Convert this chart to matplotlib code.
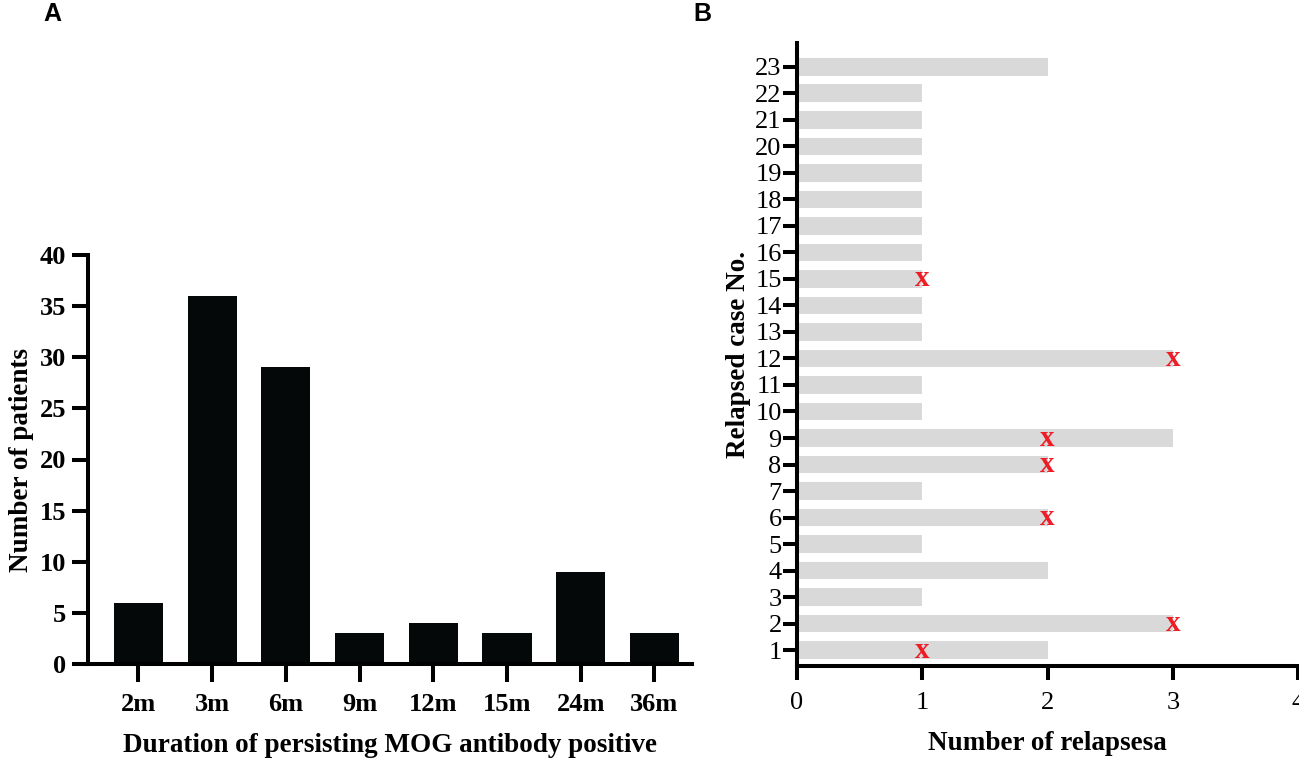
import numpy as np
import matplotlib.pyplot as plt

# panel A data
durations = ['2m', '3m', '6m', '9m', '12m', '15m', '24m', '36m']
n_patients = [6, 36, 29, 3, 4, 3, 9, 3]

# panel B data
cases = list(range(1, 24))
relapses = [2, 3, 1, 2, 1, 2, 1, 2, 3, 1, 1, 3, 1, 1, 1, 1, 1, 1, 1, 1, 1, 1, 2]
# red "x" marks: case number and position on the relapse axis
mark_cases = [1, 2, 6, 8, 9, 12, 15]
mark_pos = [1, 3, 2, 2, 2, 3, 1]

plt.rcParams['font.family'] = ['Liberation Serif', 'DejaVu Serif']

fig = plt.figure(figsize=(12.99, 7.66), dpi=100)
W, H = 1299, 766

# ---- panel A
axA = fig.add_axes([88/W, (H-664)/H, (692-88)/W, (664-255)/H])
x = np.arange(len(durations))
axA.bar(x, n_patients, width=0.665, color='#050808', edgecolor='none')
axA.set_xlim(-0.685, 7.51)
axA.set_ylim(0, 40)
axA.set_yticks(np.arange(0, 41, 5))
axA.set_xticks(x)
axA.set_xticklabels(durations)
axA.tick_params(axis='both', width=2.9, labelsize=19, direction='out')
axA.tick_params(axis='y', length=11.5, pad=4)
axA.tick_params(axis='x', length=13, pad=8)
for lab in axA.get_xticklabels() + axA.get_yticklabels():
    lab.set_fontweight('bold')
for s in ['top', 'right']:
    axA.spines[s].set_visible(False)
for s in ['left', 'bottom']:
    axA.spines[s].set_linewidth(2.9)
axA.set_xlabel('Duration of persisting MOG antibody positive', fontsize=19.5,
               fontweight='bold', labelpad=12)
axA.set_ylabel('Number of patients', fontsize=19.5, fontweight='bold', labelpad=4)

# ---- panel B
axB = fig.add_axes([797/W, (H-666)/H, (1298-797)/W, (666-43)/H])
axB.barh(cases, relapses, height=0.67, color='#d9d9d9', edgecolor='none')
for c, p in zip(mark_cases, mark_pos):
    axB.text(p, c, 'x', color='#ee1c25', fontsize=21, fontweight='bold',
             ha='center', va='center')
axB.set_xlim(0, 4)
axB.set_ylim(0.4, 23.9)
axB.set_yticks(cases)
axB.set_xticks(range(5))
axB.tick_params(axis='both', width=2.9, labelsize=19, direction='out')
axB.tick_params(axis='y', length=10, pad=1)
axB.tick_params(axis='x', length=10, pad=9)
for s in ['top', 'right']:
    axB.spines[s].set_visible(False)
for s in ['left', 'bottom']:
    axB.spines[s].set_linewidth(2.9)
axB.set_xlabel('Number of relapsesa', fontsize=19.5, fontweight='bold', labelpad=12)
axB.set_ylabel('Relapsed case No.', fontsize=19.5, fontweight='bold', labelpad=3)

fig.text(43/W, 1 - 14/H, 'A', fontsize=18, fontweight='bold',
         family='Liberation Sans', ha='left', va='center')
fig.text(693/W, 1 - 14/H, 'B', fontsize=18, fontweight='bold',
         family='Liberation Sans', ha='left', va='center')

fig.savefig('out.png', dpi=100)
